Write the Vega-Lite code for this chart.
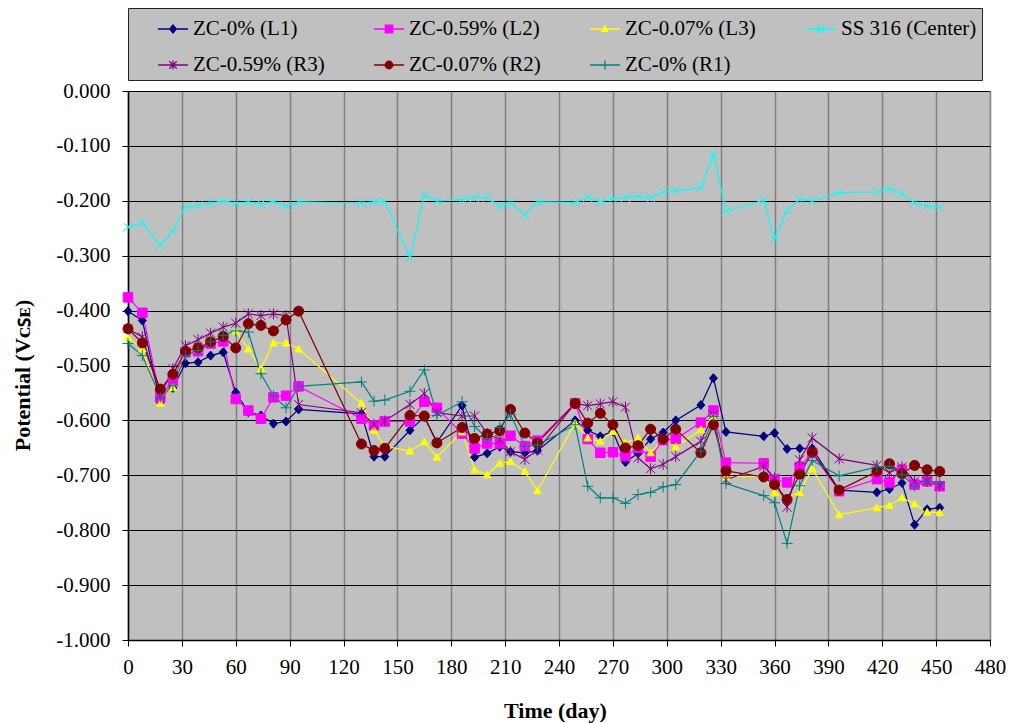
{
"$schema": "https://vega.github.io/schema/vega-lite/v6.json",
"width": 862, "height": 549,
"autosize": {"type": "none"},
"padding": {"left": 128, "top": 91, "right": 19, "bottom": 83},
"background": "#ffffff",
"data": {"values": [
{"s":"ZC-0% (L1)","d":0,"v":-0.401},{"s":"ZC-0% (L1)","d":8,"v":-0.418},{"s":"ZC-0% (L1)","d":18,"v":-0.567},{"s":"ZC-0% (L1)","d":25,"v":-0.541},{"s":"ZC-0% (L1)","d":32,"v":-0.496},{"s":"ZC-0% (L1)","d":39,"v":-0.494},{"s":"ZC-0% (L1)","d":46,"v":-0.482},{"s":"ZC-0% (L1)","d":53,"v":-0.476},{"s":"ZC-0% (L1)","d":60,"v":-0.549},{"s":"ZC-0% (L1)","d":67,"v":-0.585},{"s":"ZC-0% (L1)","d":74,"v":-0.591},{"s":"ZC-0% (L1)","d":81,"v":-0.606},{"s":"ZC-0% (L1)","d":88,"v":-0.602},{"s":"ZC-0% (L1)","d":95,"v":-0.580},
{"s":"ZC-0% (L1)","d":130,"v":-0.588},{"s":"ZC-0% (L1)","d":137,"v":-0.666},{"s":"ZC-0% (L1)","d":143,"v":-0.666},{"s":"ZC-0% (L1)","d":157,"v":-0.618},{"s":"ZC-0% (L1)","d":165,"v":-0.594},{"s":"ZC-0% (L1)","d":172,"v":-0.640},{"s":"ZC-0% (L1)","d":186,"v":-0.573},{"s":"ZC-0% (L1)","d":193,"v":-0.667},{"s":"ZC-0% (L1)","d":200,"v":-0.660},{"s":"ZC-0% (L1)","d":207,"v":-0.648},{"s":"ZC-0% (L1)","d":213,"v":-0.657},{"s":"ZC-0% (L1)","d":221,"v":-0.659},{"s":"ZC-0% (L1)","d":228,"v":-0.655},
{"s":"ZC-0% (L1)","d":249,"v":-0.600},{"s":"ZC-0% (L1)","d":256,"v":-0.618},{"s":"ZC-0% (L1)","d":263,"v":-0.629},{"s":"ZC-0% (L1)","d":270,"v":-0.620},{"s":"ZC-0% (L1)","d":277,"v":-0.676},{"s":"ZC-0% (L1)","d":284,"v":-0.660},{"s":"ZC-0% (L1)","d":291,"v":-0.634},{"s":"ZC-0% (L1)","d":298,"v":-0.622},{"s":"ZC-0% (L1)","d":305,"v":-0.600},{"s":"ZC-0% (L1)","d":319,"v":-0.572},{"s":"ZC-0% (L1)","d":326,"v":-0.523},{"s":"ZC-0% (L1)","d":333,"v":-0.621},
{"s":"ZC-0% (L1)","d":354,"v":-0.629},{"s":"ZC-0% (L1)","d":360,"v":-0.623},{"s":"ZC-0% (L1)","d":367,"v":-0.652},{"s":"ZC-0% (L1)","d":374,"v":-0.651},{"s":"ZC-0% (L1)","d":381,"v":-0.651},{"s":"ZC-0% (L1)","d":396,"v":-0.727},{"s":"ZC-0% (L1)","d":417,"v":-0.731},{"s":"ZC-0% (L1)","d":424,"v":-0.725},{"s":"ZC-0% (L1)","d":431,"v":-0.714},{"s":"ZC-0% (L1)","d":438,"v":-0.790},{"s":"ZC-0% (L1)","d":445,"v":-0.762},{"s":"ZC-0% (L1)","d":452,"v":-0.759},

{"s":"ZC-0.59% (L2)","d":0,"v":-0.376},{"s":"ZC-0.59% (L2)","d":8,"v":-0.404},{"s":"ZC-0.59% (L2)","d":18,"v":-0.558},{"s":"ZC-0.59% (L2)","d":25,"v":-0.527},{"s":"ZC-0.59% (L2)","d":32,"v":-0.476},{"s":"ZC-0.59% (L2)","d":39,"v":-0.474},{"s":"ZC-0.59% (L2)","d":46,"v":-0.460},{"s":"ZC-0.59% (L2)","d":53,"v":-0.456},{"s":"ZC-0.59% (L2)","d":60,"v":-0.561},{"s":"ZC-0.59% (L2)","d":67,"v":-0.582},{"s":"ZC-0.59% (L2)","d":74,"v":-0.597},{"s":"ZC-0.59% (L2)","d":81,"v":-0.558},{"s":"ZC-0.59% (L2)","d":88,"v":-0.555},{"s":"ZC-0.59% (L2)","d":95,"v":-0.538},
{"s":"ZC-0.59% (L2)","d":130,"v":-0.597},{"s":"ZC-0.59% (L2)","d":137,"v":-0.609},{"s":"ZC-0.59% (L2)","d":143,"v":-0.602},{"s":"ZC-0.59% (L2)","d":157,"v":-0.602},{"s":"ZC-0.59% (L2)","d":165,"v":-0.566},{"s":"ZC-0.59% (L2)","d":172,"v":-0.577},{"s":"ZC-0.59% (L2)","d":186,"v":-0.624},{"s":"ZC-0.59% (L2)","d":193,"v":-0.651},{"s":"ZC-0.59% (L2)","d":200,"v":-0.642},{"s":"ZC-0.59% (L2)","d":207,"v":-0.642},{"s":"ZC-0.59% (L2)","d":213,"v":-0.628},{"s":"ZC-0.59% (L2)","d":221,"v":-0.647},{"s":"ZC-0.59% (L2)","d":228,"v":-0.637},
{"s":"ZC-0.59% (L2)","d":249,"v":-0.569},{"s":"ZC-0.59% (L2)","d":256,"v":-0.634},{"s":"ZC-0.59% (L2)","d":263,"v":-0.659},{"s":"ZC-0.59% (L2)","d":270,"v":-0.658},{"s":"ZC-0.59% (L2)","d":277,"v":-0.665},{"s":"ZC-0.59% (L2)","d":284,"v":-0.650},{"s":"ZC-0.59% (L2)","d":291,"v":-0.666},{"s":"ZC-0.59% (L2)","d":298,"v":-0.636},{"s":"ZC-0.59% (L2)","d":305,"v":-0.634},{"s":"ZC-0.59% (L2)","d":319,"v":-0.604},{"s":"ZC-0.59% (L2)","d":326,"v":-0.582},{"s":"ZC-0.59% (L2)","d":333,"v":-0.677},
{"s":"ZC-0.59% (L2)","d":354,"v":-0.678},{"s":"ZC-0.59% (L2)","d":360,"v":-0.708},{"s":"ZC-0.59% (L2)","d":367,"v":-0.713},{"s":"ZC-0.59% (L2)","d":374,"v":-0.685},{"s":"ZC-0.59% (L2)","d":381,"v":-0.659},{"s":"ZC-0.59% (L2)","d":396,"v":-0.729},{"s":"ZC-0.59% (L2)","d":417,"v":-0.707},{"s":"ZC-0.59% (L2)","d":424,"v":-0.713},{"s":"ZC-0.59% (L2)","d":431,"v":-0.690},{"s":"ZC-0.59% (L2)","d":438,"v":-0.717},{"s":"ZC-0.59% (L2)","d":445,"v":-0.711},{"s":"ZC-0.59% (L2)","d":452,"v":-0.720},

{"s":"ZC-0.07% (L3)","d":0,"v":-0.449},{"s":"ZC-0.07% (L3)","d":8,"v":-0.470},{"s":"ZC-0.07% (L3)","d":18,"v":-0.569},{"s":"ZC-0.07% (L3)","d":25,"v":-0.540},{"s":"ZC-0.07% (L3)","d":32,"v":-0.476},{"s":"ZC-0.07% (L3)","d":39,"v":-0.470},{"s":"ZC-0.07% (L3)","d":46,"v":-0.454},{"s":"ZC-0.07% (L3)","d":53,"v":-0.445},{"s":"ZC-0.07% (L3)","d":60,"v":-0.437},{"s":"ZC-0.07% (L3)","d":67,"v":-0.470},{"s":"ZC-0.07% (L3)","d":74,"v":-0.506},{"s":"ZC-0.07% (L3)","d":81,"v":-0.459},{"s":"ZC-0.07% (L3)","d":88,"v":-0.459},{"s":"ZC-0.07% (L3)","d":95,"v":-0.470},
{"s":"ZC-0.07% (L3)","d":130,"v":-0.569},{"s":"ZC-0.07% (L3)","d":137,"v":-0.618},{"s":"ZC-0.07% (L3)","d":143,"v":-0.647},{"s":"ZC-0.07% (L3)","d":157,"v":-0.656},{"s":"ZC-0.07% (L3)","d":165,"v":-0.639},{"s":"ZC-0.07% (L3)","d":172,"v":-0.667},{"s":"ZC-0.07% (L3)","d":186,"v":-0.621},{"s":"ZC-0.07% (L3)","d":193,"v":-0.690},{"s":"ZC-0.07% (L3)","d":200,"v":-0.699},{"s":"ZC-0.07% (L3)","d":207,"v":-0.678},{"s":"ZC-0.07% (L3)","d":213,"v":-0.675},{"s":"ZC-0.07% (L3)","d":221,"v":-0.693},{"s":"ZC-0.07% (L3)","d":228,"v":-0.728},
{"s":"ZC-0.07% (L3)","d":249,"v":-0.605},{"s":"ZC-0.07% (L3)","d":256,"v":-0.632},{"s":"ZC-0.07% (L3)","d":263,"v":-0.638},{"s":"ZC-0.07% (L3)","d":270,"v":-0.620},{"s":"ZC-0.07% (L3)","d":277,"v":-0.641},{"s":"ZC-0.07% (L3)","d":284,"v":-0.632},{"s":"ZC-0.07% (L3)","d":291,"v":-0.659},{"s":"ZC-0.07% (L3)","d":298,"v":-0.635},{"s":"ZC-0.07% (L3)","d":305,"v":-0.648},{"s":"ZC-0.07% (L3)","d":319,"v":-0.617},{"s":"ZC-0.07% (L3)","d":326,"v":-0.593},{"s":"ZC-0.07% (L3)","d":333,"v":-0.703},
{"s":"ZC-0.07% (L3)","d":354,"v":-0.701},{"s":"ZC-0.07% (L3)","d":360,"v":-0.732},{"s":"ZC-0.07% (L3)","d":367,"v":-0.741},{"s":"ZC-0.07% (L3)","d":374,"v":-0.731},{"s":"ZC-0.07% (L3)","d":381,"v":-0.688},{"s":"ZC-0.07% (L3)","d":396,"v":-0.772},{"s":"ZC-0.07% (L3)","d":417,"v":-0.759},{"s":"ZC-0.07% (L3)","d":424,"v":-0.755},{"s":"ZC-0.07% (L3)","d":431,"v":-0.741},{"s":"ZC-0.07% (L3)","d":438,"v":-0.752},{"s":"ZC-0.07% (L3)","d":445,"v":-0.767},{"s":"ZC-0.07% (L3)","d":452,"v":-0.768},

{"s":"SS 316 (Center)","d":0,"v":-0.248},{"s":"SS 316 (Center)","d":8,"v":-0.240},{"s":"SS 316 (Center)","d":18,"v":-0.281},{"s":"SS 316 (Center)","d":25,"v":-0.255},{"s":"SS 316 (Center)","d":32,"v":-0.211},{"s":"SS 316 (Center)","d":39,"v":-0.209},{"s":"SS 316 (Center)","d":46,"v":-0.204},{"s":"SS 316 (Center)","d":53,"v":-0.200},{"s":"SS 316 (Center)","d":60,"v":-0.204},{"s":"SS 316 (Center)","d":67,"v":-0.202},{"s":"SS 316 (Center)","d":74,"v":-0.206},{"s":"SS 316 (Center)","d":81,"v":-0.201},{"s":"SS 316 (Center)","d":88,"v":-0.209},{"s":"SS 316 (Center)","d":95,"v":-0.202},
{"s":"SS 316 (Center)","d":130,"v":-0.204},{"s":"SS 316 (Center)","d":137,"v":-0.202},{"s":"SS 316 (Center)","d":143,"v":-0.201},{"s":"SS 316 (Center)","d":157,"v":-0.303},{"s":"SS 316 (Center)","d":165,"v":-0.190},{"s":"SS 316 (Center)","d":172,"v":-0.200},{"s":"SS 316 (Center)","d":186,"v":-0.198},{"s":"SS 316 (Center)","d":193,"v":-0.194},{"s":"SS 316 (Center)","d":200,"v":-0.194},{"s":"SS 316 (Center)","d":207,"v":-0.210},{"s":"SS 316 (Center)","d":213,"v":-0.204},{"s":"SS 316 (Center)","d":221,"v":-0.225},{"s":"SS 316 (Center)","d":228,"v":-0.202},
{"s":"SS 316 (Center)","d":249,"v":-0.203},{"s":"SS 316 (Center)","d":256,"v":-0.194},{"s":"SS 316 (Center)","d":263,"v":-0.202},{"s":"SS 316 (Center)","d":270,"v":-0.196},{"s":"SS 316 (Center)","d":277,"v":-0.194},{"s":"SS 316 (Center)","d":284,"v":-0.192},{"s":"SS 316 (Center)","d":291,"v":-0.195},{"s":"SS 316 (Center)","d":298,"v":-0.184},{"s":"SS 316 (Center)","d":305,"v":-0.181},{"s":"SS 316 (Center)","d":319,"v":-0.176},{"s":"SS 316 (Center)","d":326,"v":-0.116},{"s":"SS 316 (Center)","d":333,"v":-0.219},
{"s":"SS 316 (Center)","d":354,"v":-0.199},{"s":"SS 316 (Center)","d":360,"v":-0.270},{"s":"SS 316 (Center)","d":367,"v":-0.218},{"s":"SS 316 (Center)","d":374,"v":-0.197},{"s":"SS 316 (Center)","d":381,"v":-0.200},{"s":"SS 316 (Center)","d":396,"v":-0.185},{"s":"SS 316 (Center)","d":417,"v":-0.184},{"s":"SS 316 (Center)","d":424,"v":-0.178},{"s":"SS 316 (Center)","d":431,"v":-0.187},{"s":"SS 316 (Center)","d":438,"v":-0.204},{"s":"SS 316 (Center)","d":445,"v":-0.209},{"s":"SS 316 (Center)","d":452,"v":-0.212},

{"s":"ZC-0.59% (R3)","d":0,"v":-0.433},{"s":"ZC-0.59% (R3)","d":8,"v":-0.448},{"s":"ZC-0.59% (R3)","d":18,"v":-0.555},{"s":"ZC-0.59% (R3)","d":25,"v":-0.506},{"s":"ZC-0.59% (R3)","d":32,"v":-0.464},{"s":"ZC-0.59% (R3)","d":39,"v":-0.453},{"s":"ZC-0.59% (R3)","d":46,"v":-0.441},{"s":"ZC-0.59% (R3)","d":53,"v":-0.430},{"s":"ZC-0.59% (R3)","d":60,"v":-0.423},{"s":"ZC-0.59% (R3)","d":67,"v":-0.406},{"s":"ZC-0.59% (R3)","d":74,"v":-0.409},{"s":"ZC-0.59% (R3)","d":81,"v":-0.406},{"s":"ZC-0.59% (R3)","d":88,"v":-0.409},{"s":"ZC-0.59% (R3)","d":95,"v":-0.571},
{"s":"ZC-0.59% (R3)","d":130,"v":-0.586},{"s":"ZC-0.59% (R3)","d":137,"v":-0.607},{"s":"ZC-0.59% (R3)","d":143,"v":-0.601},{"s":"ZC-0.59% (R3)","d":157,"v":-0.571},{"s":"ZC-0.59% (R3)","d":165,"v":-0.551},{"s":"ZC-0.59% (R3)","d":172,"v":-0.586},{"s":"ZC-0.59% (R3)","d":186,"v":-0.592},{"s":"ZC-0.59% (R3)","d":193,"v":-0.592},{"s":"ZC-0.59% (R3)","d":200,"v":-0.624},{"s":"ZC-0.59% (R3)","d":207,"v":-0.635},{"s":"ZC-0.59% (R3)","d":213,"v":-0.657},{"s":"ZC-0.59% (R3)","d":221,"v":-0.671},{"s":"ZC-0.59% (R3)","d":228,"v":-0.654},
{"s":"ZC-0.59% (R3)","d":249,"v":-0.569},{"s":"ZC-0.59% (R3)","d":256,"v":-0.573},{"s":"ZC-0.59% (R3)","d":263,"v":-0.570},{"s":"ZC-0.59% (R3)","d":270,"v":-0.566},{"s":"ZC-0.59% (R3)","d":277,"v":-0.576},{"s":"ZC-0.59% (R3)","d":284,"v":-0.668},{"s":"ZC-0.59% (R3)","d":291,"v":-0.688},{"s":"ZC-0.59% (R3)","d":298,"v":-0.680},{"s":"ZC-0.59% (R3)","d":305,"v":-0.666},{"s":"ZC-0.59% (R3)","d":319,"v":-0.638},{"s":"ZC-0.59% (R3)","d":326,"v":-0.590},{"s":"ZC-0.59% (R3)","d":333,"v":-0.708},
{"s":"ZC-0.59% (R3)","d":354,"v":-0.684},{"s":"ZC-0.59% (R3)","d":360,"v":-0.705},{"s":"ZC-0.59% (R3)","d":367,"v":-0.758},{"s":"ZC-0.59% (R3)","d":374,"v":-0.672},{"s":"ZC-0.59% (R3)","d":381,"v":-0.632},{"s":"ZC-0.59% (R3)","d":396,"v":-0.670},{"s":"ZC-0.59% (R3)","d":417,"v":-0.682},{"s":"ZC-0.59% (R3)","d":424,"v":-0.695},{"s":"ZC-0.59% (R3)","d":431,"v":-0.685},{"s":"ZC-0.59% (R3)","d":438,"v":-0.711},{"s":"ZC-0.59% (R3)","d":445,"v":-0.711},{"s":"ZC-0.59% (R3)","d":452,"v":-0.719},

{"s":"ZC-0.07% (R2)","d":0,"v":-0.433},{"s":"ZC-0.07% (R2)","d":8,"v":-0.459},{"s":"ZC-0.07% (R2)","d":18,"v":-0.543},{"s":"ZC-0.07% (R2)","d":25,"v":-0.516},{"s":"ZC-0.07% (R2)","d":32,"v":-0.474},{"s":"ZC-0.07% (R2)","d":39,"v":-0.468},{"s":"ZC-0.07% (R2)","d":46,"v":-0.457},{"s":"ZC-0.07% (R2)","d":53,"v":-0.447},{"s":"ZC-0.07% (R2)","d":60,"v":-0.468},{"s":"ZC-0.07% (R2)","d":67,"v":-0.424},{"s":"ZC-0.07% (R2)","d":74,"v":-0.427},{"s":"ZC-0.07% (R2)","d":81,"v":-0.437},{"s":"ZC-0.07% (R2)","d":88,"v":-0.417},{"s":"ZC-0.07% (R2)","d":95,"v":-0.401},
{"s":"ZC-0.07% (R2)","d":130,"v":-0.643},{"s":"ZC-0.07% (R2)","d":137,"v":-0.655},{"s":"ZC-0.07% (R2)","d":143,"v":-0.651},{"s":"ZC-0.07% (R2)","d":157,"v":-0.591},{"s":"ZC-0.07% (R2)","d":165,"v":-0.592},{"s":"ZC-0.07% (R2)","d":172,"v":-0.641},{"s":"ZC-0.07% (R2)","d":186,"v":-0.613},{"s":"ZC-0.07% (R2)","d":193,"v":-0.633},{"s":"ZC-0.07% (R2)","d":200,"v":-0.625},{"s":"ZC-0.07% (R2)","d":207,"v":-0.619},{"s":"ZC-0.07% (R2)","d":213,"v":-0.580},{"s":"ZC-0.07% (R2)","d":221,"v":-0.623},{"s":"ZC-0.07% (R2)","d":228,"v":-0.641},
{"s":"ZC-0.07% (R2)","d":249,"v":-0.569},{"s":"ZC-0.07% (R2)","d":256,"v":-0.605},{"s":"ZC-0.07% (R2)","d":263,"v":-0.587},{"s":"ZC-0.07% (R2)","d":270,"v":-0.608},{"s":"ZC-0.07% (R2)","d":277,"v":-0.650},{"s":"ZC-0.07% (R2)","d":284,"v":-0.646},{"s":"ZC-0.07% (R2)","d":291,"v":-0.616},{"s":"ZC-0.07% (R2)","d":298,"v":-0.634},{"s":"ZC-0.07% (R2)","d":305,"v":-0.616},{"s":"ZC-0.07% (R2)","d":319,"v":-0.659},{"s":"ZC-0.07% (R2)","d":326,"v":-0.608},{"s":"ZC-0.07% (R2)","d":333,"v":-0.692},
{"s":"ZC-0.07% (R2)","d":354,"v":-0.703},{"s":"ZC-0.07% (R2)","d":360,"v":-0.717},{"s":"ZC-0.07% (R2)","d":367,"v":-0.744},{"s":"ZC-0.07% (R2)","d":374,"v":-0.698},{"s":"ZC-0.07% (R2)","d":381,"v":-0.658},{"s":"ZC-0.07% (R2)","d":396,"v":-0.727},{"s":"ZC-0.07% (R2)","d":417,"v":-0.693},{"s":"ZC-0.07% (R2)","d":424,"v":-0.679},{"s":"ZC-0.07% (R2)","d":431,"v":-0.697},{"s":"ZC-0.07% (R2)","d":438,"v":-0.682},{"s":"ZC-0.07% (R2)","d":445,"v":-0.690},{"s":"ZC-0.07% (R2)","d":452,"v":-0.693},

{"s":"ZC-0% (R1)","d":0,"v":-0.460},{"s":"ZC-0% (R1)","d":8,"v":-0.482},{"s":"ZC-0% (R1)","d":18,"v":-0.558},{"s":"ZC-0% (R1)","d":25,"v":-0.537},{"s":"ZC-0% (R1)","d":32,"v":-0.482},{"s":"ZC-0% (R1)","d":39,"v":-0.473},{"s":"ZC-0% (R1)","d":46,"v":-0.457},{"s":"ZC-0% (R1)","d":53,"v":-0.445},{"s":"ZC-0% (R1)","d":60,"v":-0.437},{"s":"ZC-0% (R1)","d":67,"v":-0.439},{"s":"ZC-0% (R1)","d":74,"v":-0.515},{"s":"ZC-0% (R1)","d":81,"v":-0.555},{"s":"ZC-0% (R1)","d":88,"v":-0.577},{"s":"ZC-0% (R1)","d":95,"v":-0.538},
{"s":"ZC-0% (R1)","d":130,"v":-0.530},{"s":"ZC-0% (R1)","d":137,"v":-0.565},{"s":"ZC-0% (R1)","d":143,"v":-0.563},{"s":"ZC-0% (R1)","d":157,"v":-0.547},{"s":"ZC-0% (R1)","d":165,"v":-0.508},{"s":"ZC-0% (R1)","d":172,"v":-0.591},{"s":"ZC-0% (R1)","d":186,"v":-0.566},{"s":"ZC-0% (R1)","d":193,"v":-0.611},{"s":"ZC-0% (R1)","d":200,"v":-0.633},{"s":"ZC-0% (R1)","d":207,"v":-0.613},{"s":"ZC-0% (R1)","d":213,"v":-0.589},{"s":"ZC-0% (R1)","d":221,"v":-0.647},{"s":"ZC-0% (R1)","d":228,"v":-0.645},
{"s":"ZC-0% (R1)","d":249,"v":-0.608},{"s":"ZC-0% (R1)","d":256,"v":-0.720},{"s":"ZC-0% (R1)","d":263,"v":-0.741},{"s":"ZC-0% (R1)","d":270,"v":-0.741},{"s":"ZC-0% (R1)","d":277,"v":-0.751},{"s":"ZC-0% (R1)","d":284,"v":-0.735},{"s":"ZC-0% (R1)","d":291,"v":-0.731},{"s":"ZC-0% (R1)","d":298,"v":-0.721},{"s":"ZC-0% (R1)","d":305,"v":-0.717},{"s":"ZC-0% (R1)","d":319,"v":-0.656},{"s":"ZC-0% (R1)","d":326,"v":-0.593},{"s":"ZC-0% (R1)","d":333,"v":-0.715},
{"s":"ZC-0% (R1)","d":354,"v":-0.737},{"s":"ZC-0% (R1)","d":360,"v":-0.750},{"s":"ZC-0% (R1)","d":367,"v":-0.824},{"s":"ZC-0% (R1)","d":374,"v":-0.719},{"s":"ZC-0% (R1)","d":381,"v":-0.673},{"s":"ZC-0% (R1)","d":396,"v":-0.701},{"s":"ZC-0% (R1)","d":417,"v":-0.685},{"s":"ZC-0% (R1)","d":424,"v":-0.684},{"s":"ZC-0% (R1)","d":431,"v":-0.699},{"s":"ZC-0% (R1)","d":438,"v":-0.720},{"s":"ZC-0% (R1)","d":445,"v":-0.711},{"s":"ZC-0% (R1)","d":452,"v":-0.713}
]},
"encoding": {
  "x": {"field": "d", "type": "quantitative",
    "scale": {"domain": [0, 480], "nice": false, "zero": false},
    "axis": {"values": [0,30,60,90,120,150,180,210,240,270,300,330,360,390,420,450,480],
      "grid": true, "gridColor": "#808080", "gridWidth": 1.5, "labelPadding": 10, "labelFlush": false, "labelOverlap": false,
      "title": "Time (day)", "titleX": 427, "titleY": 70, "titleAlign": "center", "titleBaseline": "middle"}},
  "y": {"field": "v", "type": "quantitative",
    "scale": {"domain": [-1, 0], "nice": false, "zero": false},
    "axis": {"values": [-1,-0.9,-0.8,-0.7,-0.6,-0.5,-0.4,-0.3,-0.2,-0.1,0], "format": ".3f",
      "grid": true, "gridColor": "#000000", "gridWidth": 1.2, "labelPadding": 12, "labelFlush": false, "labelOverlap": false,
      "title": "Potential (Vᴄꜱᴇ)", "titleX": -106, "titleY": 284, "titleAngle": 270, "titleAlign": "center", "titleBaseline": "middle"}}
},
"layer": [
  {"mark": {"type": "line", "strokeWidth": 1.2},
   "encoding": {
     "color": {"field": "s", "type": "nominal",
       "scale": {"domain": ["ZC-0% (L1)","ZC-0.59% (L2)","ZC-0.07% (L3)","SS 316 (Center)","ZC-0.59% (R3)","ZC-0.07% (R2)","ZC-0% (R1)"],
                 "range": ["#000080","#ff00ff","#ffff00","#00ffff","#800080","#800000","#008080"]},
       "legend": null}}},
  {"mark": {"type": "point", "filled": true, "size": 100, "strokeWidth": 1, "opacity": 1},
   "encoding": {
     "color": {"field": "s", "type": "nominal",
       "scale": {"domain": ["ZC-0% (L1)","ZC-0.59% (L2)","ZC-0.07% (L3)","SS 316 (Center)","ZC-0.59% (R3)","ZC-0.07% (R2)","ZC-0% (R1)"],
                 "range": ["#000080","#ff00ff","#ffff00","#00ffff","#800080","#800000","#008080"]},
       "legend": null},
     "stroke": {"field": "s", "type": "nominal",
       "scale": {"domain": ["ZC-0% (L1)","ZC-0.59% (L2)","ZC-0.07% (L3)","SS 316 (Center)","ZC-0.59% (R3)","ZC-0.07% (R2)","ZC-0% (R1)"],
                 "range": ["#000080","#ff00ff","#ffff00","#00ffff","#800080","#800000","#008080"]},
       "legend": null},
     "shape": {"field": "s", "type": "nominal",
       "scale": {"domain": ["ZC-0% (L1)","ZC-0.59% (L2)","ZC-0.07% (L3)","SS 316 (Center)","ZC-0.59% (R3)","ZC-0.07% (R2)","ZC-0% (R1)"],
                 "range": ["M0,-0.9L0.8,0L0,0.9L-0.8,0Z","M-0.95,-0.95H0.95V0.95H-0.95Z","M0,-0.75L0.75,0.6H-0.75Z","M-0.9,-0.9L0.9,0.9M-0.9,0.9L0.9,-0.9","M-0.9,-0.9L0.9,0.9M-0.9,0.9L0.9,-0.9M0,-1.1V1.1","circle","M-1.1,0H1.1M0,-1.1V1.1"]},
       "legend": null}}},
  {"mark": {"type": "point", "filled": true, "size": 100, "opacity": 0},
   "encoding": {
     "color": {"field": "s", "type": "nominal",
       "scale": {"domain": ["ZC-0% (L1)","ZC-0.59% (L2)","ZC-0.07% (L3)","SS 316 (Center)","ZC-0.59% (R3)","ZC-0.07% (R2)","ZC-0% (R1)"],
                 "range": ["#000080","#ff00ff","#ffff00","#00ffff","#800080","#800000","#008080"]},
       "legend": {"orient": "none", "legendX": 0, "legendY": -83, "columns": 4, "direction": "horizontal", "gridAlign": "all", "columnPadding": 20, "rowPadding": 10, "padding": 5, "symbolOffset": 24, "symbolSize": 900, "symbolStrokeWidth": 1.3, "symbolOpacity": 1, "labelFont": "Liberation Serif", "labelFontSize": 21, "labelColor": "#000000", "labelOffset": 4, "labelLimit": 300, "fillColor": "#c0c0c0", "strokeColor": "#222222", "title": null}},
     "stroke": {"field": "s", "type": "nominal",
       "scale": {"domain": ["ZC-0% (L1)","ZC-0.59% (L2)","ZC-0.07% (L3)","SS 316 (Center)","ZC-0.59% (R3)","ZC-0.07% (R2)","ZC-0% (R1)"],
                 "range": ["#000080","#ff00ff","#ffff00","#00ffff","#800080","#800000","#008080"]},
       "legend": {"orient": "none", "legendX": 0, "legendY": -83, "columns": 4, "direction": "horizontal", "gridAlign": "all", "columnPadding": 20, "rowPadding": 10, "padding": 5, "symbolOffset": 24, "symbolSize": 900, "symbolStrokeWidth": 1.3, "symbolOpacity": 1, "labelFont": "Liberation Serif", "labelFontSize": 21, "labelColor": "#000000", "labelOffset": 4, "labelLimit": 300, "fillColor": "#c0c0c0", "strokeColor": "#222222", "title": null}},
     "shape": {"field": "s", "type": "nominal",
       "scale": {"domain": ["ZC-0% (L1)","ZC-0.59% (L2)","ZC-0.07% (L3)","SS 316 (Center)","ZC-0.59% (R3)","ZC-0.07% (R2)","ZC-0% (R1)"],
                 "range": ["M-1,0H1M0,-0.27L0.22,0L0,0.27L-0.22,0Z","M-1,0H1M-0.25,-0.25H0.25V0.25H-0.25Z","M-1,0H1M0,-0.2L0.2,0.15H-0.2Z","M-1,0H1M-0.25,-0.25L0.25,0.25M-0.25,0.25L0.25,-0.25","M-1,0H1M-0.25,-0.25L0.25,0.25M-0.25,0.25L0.25,-0.25M0,-0.3V0.3","M-1,0H1M-0.25,0A0.25,0.25 0 1,1 0.25,0A0.25,0.25 0 1,1 -0.25,0Z","M-1,0H1M0,-0.3V0.3"]},
       "legend": {"orient": "none", "legendX": 0, "legendY": -83, "columns": 4, "direction": "horizontal", "gridAlign": "all", "columnPadding": 20, "rowPadding": 10, "padding": 5, "symbolOffset": 24, "symbolSize": 900, "symbolStrokeWidth": 1.3, "symbolOpacity": 1, "labelFont": "Liberation Serif", "labelFontSize": 21, "labelColor": "#000000", "labelOffset": 4, "labelLimit": 300, "fillColor": "#c0c0c0", "strokeColor": "#222222", "title": null}}}}
],
"resolve": {
  "scale": {"color": "independent", "stroke": "independent", "shape": "independent"},
  "legend": {"color": "independent", "stroke": "independent", "shape": "independent"}
},
"config": {
  "view": {"fill": "#c0c0c0", "stroke": null},
  "locale": {"number": {"decimal": ".", "thousands": ",", "grouping": [3], "currency": ["", ""], "minus": "-"}},
  "axis": {"labelFont": "Liberation Serif", "labelFontSize": 21, "labelColor": "#000000",
    "titleFont": "Liberation Serif", "titleFontSize": 22, "titleFontWeight": "bold", "titleColor": "#000000",
    "domainColor": "#000000", "domainWidth": 1.5, "tickColor": "#000000", "tickSize": 6, "tickWidth": 1}
}
}
